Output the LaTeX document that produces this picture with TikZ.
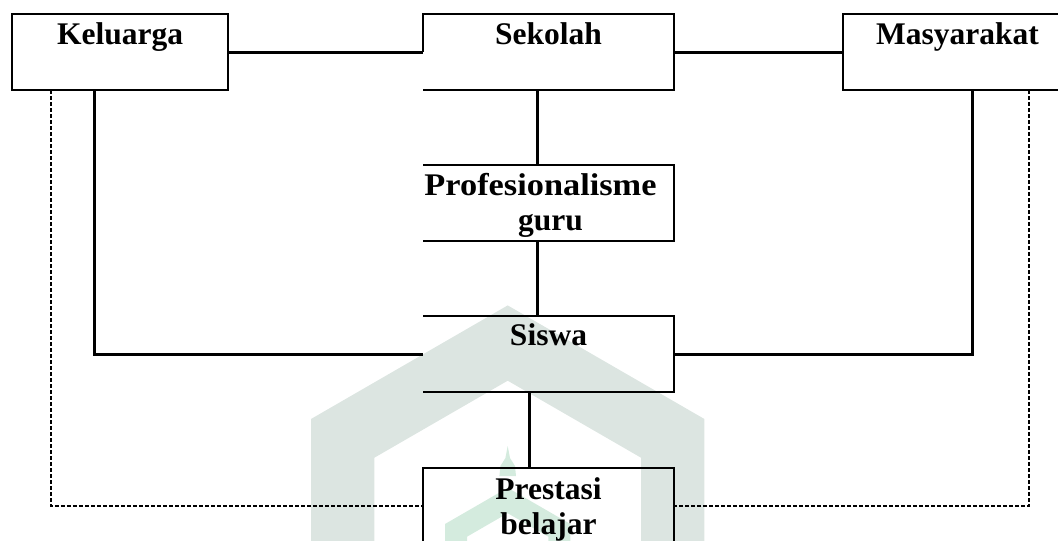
\documentclass[tikz,border=0pt]{standalone}
\usepackage{fontspec}
\usepackage{graphicx}
\setmainfont{Liberation Serif}
\usetikzlibrary{calc}
\definecolor{wmgray}{RGB}{220,229,225}
\definecolor{wmgreen}{RGB}{212,235,222}
\begin{document}
\begin{tikzpicture}[x=1pt,y=-1pt,
  boxnode/.style={draw=none, inner sep=0pt, outer sep=0pt, minimum height=76pt},
  boxline/.style={line width=2.4pt},
  conn/.style={line width=3pt},
  dashconn/.style={line width=2pt, dash pattern=on 4pt off 2pt},
  lbl/.style={font=\fontsize{31.5}{36}\selectfont\bfseries, inner sep=0pt, anchor=base}]
\useasboundingbox (0,0) rectangle (1058,541);
\clip (0,0) rectangle (1058,541);
% watermark
\fill[wmgray] (311,541) -- (311,419) -- (507.7,305.4) -- (704.4,419) -- (704.4,541) -- (641,541) -- (641,457.7) -- (507.7,380.7) -- (374.4,457.7) -- (374.4,541) -- cycle;
\fill[wmgreen] (507.7,446) -- (510,458) -- (515,466) -- (516,476) -- (499.4,476) -- (500.4,466) -- (505.4,458) -- cycle;
\fill[wmgreen] (445,541) -- (445,524) -- (507.7,487.8) -- (570.4,524) -- (570.4,541) -- (548.4,541) -- (548.4,536.7) -- (507.7,513.2) -- (467,536.7) -- (467,541) -- cycle;
% box nodes
\node[boxnode, minimum width=216pt] (kel) at (120,52) {};
\node[boxnode, minimum width=251pt] (sek) at (548.5,52) {};
\node[boxnode, minimum width=251pt] (prof) at (548.5,203) {};
\node[boxnode, minimum width=251pt] (sis) at (548.5,354) {};
\node[boxnode, minimum width=251pt] (pres) at (548.5,506) {};
\node[boxnode, minimum width=218pt] (mas) at (952,52) {};
% box outlines
\draw[boxline] (kel.north west) rectangle (kel.south east);
\draw[boxline] (sek.west) -- (sek.north west) -- (sek.north east) -- (sek.south east) -- (sek.south west);
\draw[boxline] (prof.north west) -- (prof.north east) -- (prof.south east) -- (prof.south west);
\draw[boxline] (sis.north west) -- (sis.north east) -- (sis.south east) -- (sis.south west);
\draw[boxline] (pres.north west) rectangle (pres.south east);
\draw[boxline] (mas.north west) rectangle (mas.south east);
% connectors
\draw[conn] (kel.east) -- (sek.west);
\draw[conn] (sek.east) -- (mas.west);
\draw[conn] ([xshift=-11pt]sek.south) -- ([xshift=-11pt]prof.north);
\draw[conn] ([xshift=-11pt]prof.south) -- ([xshift=-11pt]sis.north);
\draw[conn] ([xshift=-19.5pt]sis.south) -- ([xshift=-19.5pt]pres.north);
\draw[conn] ([xshift=-26pt]kel.south) |- (sis.west);
\draw[conn] ([xshift=20pt]mas.south) |- (sis.east);
\draw[dashconn] ([xshift=-69pt]kel.south) |- (pres.west);
\draw[dashconn] ([xshift=77pt]mas.south) |- (pres.east);
% labels
\node[lbl] (kelT) at ([yshift=-30pt]kel.north) {Keluarga};
\node[lbl] (sekT) at ([yshift=-30pt]sek.north) {Sekolah};
\node[lbl] (masT) at ([yshift=-30pt,xshift=-103.5pt]mas.north east) {Masyarakat};
\node[lbl] (profT1) at ([yshift=-30pt,xshift=-8pt]prof.north) {\scalebox{1.09}[1]{Profesionalisme}};
\node[lbl] (profT2) at ([yshift=-65pt,xshift=2pt]prof.north) {guru};
\node[lbl] (sisT) at ([yshift=-29pt]sis.north) {Siswa};
\node[lbl] (presT1) at ([yshift=-31pt]pres.north) {Prestasi};
\node[lbl] (presT2) at ([yshift=-66pt]pres.north) {belajar};
\end{tikzpicture}
\end{document}
